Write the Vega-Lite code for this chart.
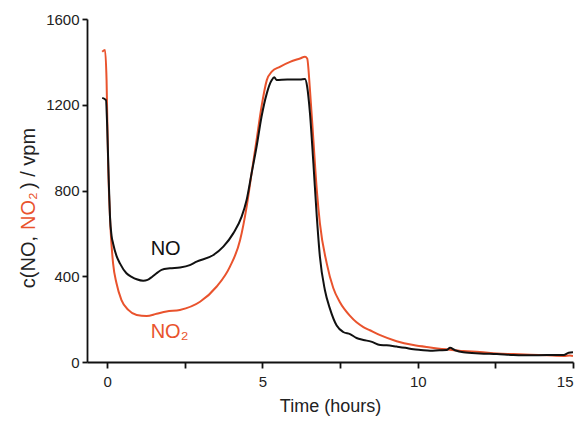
{
  "$schema": "https://vega.github.io/schema/vega-lite/v6.json",
  "width": 486,
  "height": 343,
  "autosize": {"type": "none"},
  "padding": {"left": 87, "top": 19, "right": 10, "bottom": 60},
  "background": "white",
  "config": {
    "view": {"stroke": null},
    "font": "Liberation Sans",
    "axis": {
      "grid": false,
      "domainColor": "#111111",
      "domainWidth": 1.8,
      "tickColor": "#111111",
      "tickWidth": 1.8,
      "labelColor": "#222222",
      "labelFont": "Liberation Sans",
      "labelFontSize": 15,
      "titleFont": "Liberation Sans",
      "titleFontWeight": "normal",
      "titleColor": "#222222"
    }
  },
  "datasets": {
    "curves": [
      {"t": -0.16, "c": 1447, "s": "NO2"},
      {"t": -0.07, "c": 1455, "s": "NO2"},
      {"t": -0.02, "c": 1315, "s": "NO2"},
      {"t": 0.03, "c": 927, "s": "NO2"},
      {"t": 0.11, "c": 616, "s": "NO2"},
      {"t": 0.19, "c": 460, "s": "NO2"},
      {"t": 0.3, "c": 367, "s": "NO2"},
      {"t": 0.46, "c": 289, "s": "NO2"},
      {"t": 0.68, "c": 243, "s": "NO2"},
      {"t": 0.95, "c": 219, "s": "NO2"},
      {"t": 1.27, "c": 214, "s": "NO2"},
      {"t": 1.59, "c": 225, "s": "NO2"},
      {"t": 1.91, "c": 236, "s": "NO2"},
      {"t": 2.34, "c": 243, "s": "NO2"},
      {"t": 2.99, "c": 281, "s": "NO2"},
      {"t": 3.52, "c": 351, "s": "NO2"},
      {"t": 3.95, "c": 444, "s": "NO2"},
      {"t": 4.28, "c": 569, "s": "NO2"},
      {"t": 4.49, "c": 724, "s": "NO2"},
      {"t": 4.65, "c": 880, "s": "NO2"},
      {"t": 4.81, "c": 1035, "s": "NO2"},
      {"t": 4.97, "c": 1191, "s": "NO2"},
      {"t": 5.14, "c": 1315, "s": "NO2"},
      {"t": 5.3, "c": 1354, "s": "NO2"},
      {"t": 5.56, "c": 1377, "s": "NO2"},
      {"t": 5.89, "c": 1400, "s": "NO2"},
      {"t": 6.21, "c": 1416, "s": "NO2"},
      {"t": 6.37, "c": 1424, "s": "NO2"},
      {"t": 6.44, "c": 1416, "s": "NO2"},
      {"t": 6.53, "c": 1269, "s": "NO2"},
      {"t": 6.64, "c": 1035, "s": "NO2"},
      {"t": 6.75, "c": 802, "s": "NO2"},
      {"t": 6.85, "c": 647, "s": "NO2"},
      {"t": 7.07, "c": 460, "s": "NO2"},
      {"t": 7.28, "c": 345, "s": "NO2"},
      {"t": 7.49, "c": 280, "s": "NO2"},
      {"t": 7.82, "c": 215, "s": "NO2"},
      {"t": 8.03, "c": 185, "s": "NO2"},
      {"t": 8.25, "c": 163, "s": "NO2"},
      {"t": 8.46, "c": 148, "s": "NO2"},
      {"t": 8.79, "c": 125, "s": "NO2"},
      {"t": 9.32, "c": 97, "s": "NO2"},
      {"t": 9.86, "c": 79, "s": "NO2"},
      {"t": 10.4, "c": 68, "s": "NO2"},
      {"t": 10.93, "c": 59, "s": "NO2"},
      {"t": 11.47, "c": 51, "s": "NO2"},
      {"t": 12.0, "c": 47, "s": "NO2"},
      {"t": 12.55, "c": 40, "s": "NO2"},
      {"t": 13.08, "c": 37, "s": "NO2"},
      {"t": 13.62, "c": 34, "s": "NO2"},
      {"t": 14.16, "c": 31, "s": "NO2"},
      {"t": 14.7, "c": 28, "s": "NO2"},
      {"t": 14.9, "c": 30, "s": "NO2"},
      {"t": 15.0, "c": 28, "s": "NO2"},
      {"t": -0.16, "c": 1232, "s": "NO"},
      {"t": -0.04, "c": 1222, "s": "NO"},
      {"t": 0.0, "c": 1100, "s": "NO"},
      {"t": 0.05, "c": 850, "s": "NO"},
      {"t": 0.09, "c": 678, "s": "NO"},
      {"t": 0.14, "c": 590, "s": "NO"},
      {"t": 0.19, "c": 553, "s": "NO"},
      {"t": 0.3, "c": 495, "s": "NO"},
      {"t": 0.41, "c": 460, "s": "NO"},
      {"t": 0.62, "c": 414, "s": "NO"},
      {"t": 0.8, "c": 396, "s": "NO"},
      {"t": 0.95, "c": 386, "s": "NO"},
      {"t": 1.16, "c": 379, "s": "NO"},
      {"t": 1.3, "c": 383, "s": "NO"},
      {"t": 1.45, "c": 398, "s": "NO"},
      {"t": 1.59, "c": 414, "s": "NO"},
      {"t": 1.75, "c": 430, "s": "NO"},
      {"t": 2.02, "c": 437, "s": "NO"},
      {"t": 2.34, "c": 441, "s": "NO"},
      {"t": 2.66, "c": 452, "s": "NO"},
      {"t": 2.88, "c": 468, "s": "NO"},
      {"t": 3.42, "c": 499, "s": "NO"},
      {"t": 3.74, "c": 538, "s": "NO"},
      {"t": 4.06, "c": 600, "s": "NO"},
      {"t": 4.33, "c": 678, "s": "NO"},
      {"t": 4.49, "c": 756, "s": "NO"},
      {"t": 4.65, "c": 880, "s": "NO"},
      {"t": 4.81, "c": 1004, "s": "NO"},
      {"t": 4.97, "c": 1144, "s": "NO"},
      {"t": 5.14, "c": 1253, "s": "NO"},
      {"t": 5.3, "c": 1315, "s": "NO"},
      {"t": 5.38, "c": 1328, "s": "NO"},
      {"t": 5.45, "c": 1316, "s": "NO"},
      {"t": 5.8, "c": 1318, "s": "NO"},
      {"t": 6.21, "c": 1318, "s": "NO"},
      {"t": 6.37, "c": 1320, "s": "NO"},
      {"t": 6.44, "c": 1284, "s": "NO"},
      {"t": 6.53, "c": 1160, "s": "NO"},
      {"t": 6.64, "c": 927, "s": "NO"},
      {"t": 6.75, "c": 678, "s": "NO"},
      {"t": 6.85, "c": 491, "s": "NO"},
      {"t": 7.01, "c": 336, "s": "NO"},
      {"t": 7.17, "c": 250, "s": "NO"},
      {"t": 7.39, "c": 170, "s": "NO"},
      {"t": 7.6, "c": 140, "s": "NO"},
      {"t": 7.82, "c": 130, "s": "NO"},
      {"t": 8.03, "c": 112, "s": "NO"},
      {"t": 8.25, "c": 103, "s": "NO"},
      {"t": 8.5, "c": 95, "s": "NO"},
      {"t": 8.79, "c": 79, "s": "NO"},
      {"t": 9.0, "c": 78, "s": "NO"},
      {"t": 9.32, "c": 72, "s": "NO"},
      {"t": 9.6, "c": 66, "s": "NO"},
      {"t": 9.86, "c": 59, "s": "NO"},
      {"t": 10.1, "c": 56, "s": "NO"},
      {"t": 10.4, "c": 53, "s": "NO"},
      {"t": 10.7, "c": 55, "s": "NO"},
      {"t": 10.93, "c": 56, "s": "NO"},
      {"t": 11.04, "c": 66, "s": "NO"},
      {"t": 11.2, "c": 55, "s": "NO"},
      {"t": 11.47, "c": 45, "s": "NO"},
      {"t": 12.0, "c": 40, "s": "NO"},
      {"t": 12.55, "c": 37, "s": "NO"},
      {"t": 13.08, "c": 33, "s": "NO"},
      {"t": 13.62, "c": 31, "s": "NO"},
      {"t": 14.16, "c": 33, "s": "NO"},
      {"t": 14.7, "c": 33, "s": "NO"},
      {"t": 14.86, "c": 43, "s": "NO"},
      {"t": 15.0, "c": 45, "s": "NO"}
    ]
  },
  "layer": [
    {
      "data": {"name": "curves"},
      "transform": [{"filter": "datum.s === 'NO2'"}],
      "mark": {"type": "line", "color": "#e9532d", "strokeWidth": 2, "clip": true, "interpolate": "monotone"},
      "encoding": {
        "x": {
          "field": "t",
          "type": "quantitative",
          "scale": {"domain": [-0.65, 15], "nice": false, "zero": false},
          "axis": {
            "values": [0, 2.5, 5, 7.5, 10, 12.5, 15],
            "labelExpr": "datum.value % 5 === 0 ? datum.label : ''",
            "tickSize": 6,
            "labelPadding": 6,
            "title": "Time (hours)",
            "titleFontSize": 18,
            "titlePadding": 8
          }
        },
        "y": {
          "field": "c",
          "type": "quantitative",
          "scale": {"domain": [0, 1600], "nice": false},
          "axis": {
            "values": [0, 400, 800, 1200, 1600],
            "format": "d",
            "tickSize": 5,
            "labelPadding": 3,
            "title": null
          }
        },
        "order": {"field": "t", "type": "quantitative"}
      }
    },
    {
      "data": {"name": "curves"},
      "transform": [{"filter": "datum.s === 'NO'"}],
      "mark": {"type": "line", "color": "#111111", "strokeWidth": 2, "clip": true, "interpolate": "monotone"},
      "encoding": {
        "x": {"field": "t", "type": "quantitative"},
        "y": {"field": "c", "type": "quantitative"},
        "order": {"field": "t", "type": "quantitative"}
      }
    },
    {
      "data": {"values": [{"t": 1.4, "c": 499, "label": "NO"}]},
      "mark": {"type": "text", "align": "left", "baseline": "alphabetic", "fontSize": 20, "color": "#111111", "font": "Liberation Sans"},
      "encoding": {
        "x": {"field": "t", "type": "quantitative"},
        "y": {"field": "c", "type": "quantitative"},
        "text": {"field": "label"}
      }
    },
    {
      "data": {"values": [{"t": 1.4, "c": 112, "label": "NO₂"}]},
      "mark": {"type": "text", "align": "left", "baseline": "alphabetic", "fontSize": 20, "color": "#e9532d", "font": "Liberation Sans"},
      "encoding": {
        "x": {"field": "t", "type": "quantitative"},
        "y": {"field": "c", "type": "quantitative"},
        "text": {"field": "label"}
      }
    },
    {
      "data": {"values": [{"t": -2.33, "c": 588, "label": "c(NO,"}]},
      "mark": {"type": "text", "align": "right", "baseline": "alphabetic", "angle": 270, "fontSize": 20, "color": "#222222", "font": "Liberation Sans"},
      "encoding": {
        "x": {"field": "t", "type": "quantitative"},
        "y": {"field": "c", "type": "quantitative"},
        "text": {"field": "label"}
      }
    },
    {
      "data": {"values": [{"t": -2.33, "c": 616, "label": "NO₂"}]},
      "mark": {"type": "text", "align": "left", "baseline": "alphabetic", "angle": 270, "fontSize": 20, "color": "#e9532d", "font": "Liberation Sans"},
      "encoding": {
        "x": {"field": "t", "type": "quantitative"},
        "y": {"field": "c", "type": "quantitative"},
        "text": {"field": "label"}
      }
    },
    {
      "data": {"values": [{"t": -2.33, "c": 807, "label": ") / vpm"}]},
      "mark": {"type": "text", "align": "left", "baseline": "alphabetic", "angle": 270, "fontSize": 20, "color": "#222222", "font": "Liberation Sans"},
      "encoding": {
        "x": {"field": "t", "type": "quantitative"},
        "y": {"field": "c", "type": "quantitative"},
        "text": {"field": "label"}
      }
    }
  ]
}
